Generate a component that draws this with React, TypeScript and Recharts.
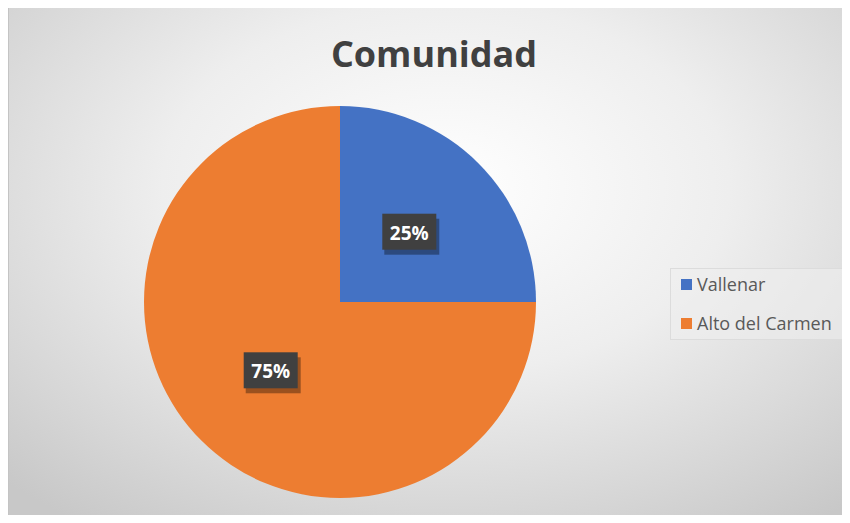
import React from 'react';
import { PieChart, Pie, Cell, Legend } from 'recharts';

const categories = ['Vallenar', 'Alto del Carmen'];
const shares = [25, 75];
const colors = ['#4472C4', '#ED7D31'];

const data = categories.map((name, i) => ({ name, value: shares[i] }));

const RADIAN = Math.PI / 180;

const renderLabel = (props: any) => {
    const { cx, cy, midAngle, outerRadius, percent } = props;
    const r = outerRadius * 0.5;
    const x = cx + r * Math.cos(-midAngle * RADIAN);
    const y = cy + r * Math.sin(-midAngle * RADIAN);
    return (
        <g>
            <rect x={x - 27} y={y - 17} width={55} height={36} fill="rgba(0,0,0,0.35)" transform="translate(2,3)" />
            <rect x={x - 27} y={y - 19} width={54} height={36} fill="#404040" />
            <text
                x={x}
                y={y}
                fill="#ffffff"
                textAnchor="middle"
                dominantBaseline="central"
                fontFamily="'Open Sans', sans-serif"
                fontWeight={700}
                fontSize={19}
            >
                {`${Math.round(percent * 100)}%`}
            </text>
        </g>
    );
};

const renderLegend = () => (
    <div
        style={{
            width: 178,
            height: 72,
            boxSizing: 'border-box',
            border: '1px solid #dcdcdc',
            background: 'rgba(238,238,238,0.6)',
            padding: '3px 0 0 10px',
            fontFamily: "'Open Sans', sans-serif",
            fontSize: 18,
            color: '#595959',
        }}
    >
        {categories.map((c, i) => (
            <div key={c} style={{ display: 'flex', alignItems: 'center', height: 24, marginBottom: i === 0 ? 15 : 0 }}>
                <span style={{ width: 11, height: 11, background: colors[i], marginRight: 5, display: 'inline-block' }} />
                <span>{c}</span>
            </div>
        ))}
    </div>
);

const App: React.FC = () => {
    return (
        <div style={{ margin: -8, width: 850, height: 523, background: '#ffffff', position: 'relative' }}>
            <div
                style={{
                    position: 'absolute',
                    left: 8,
                    top: 7,
                    width: 842,
                    height: 516,
                    boxSizing: 'border-box',
                    border: '1px solid #c4c4c4',
                    background: 'radial-gradient(ellipse 75% 80% at 52% 35%, #ffffff 0%, #eeeeee 45%, #d6d6d6 80%, #c8c8c8 100%)',
                }}
            />
            <div
                style={{
                    position: 'absolute',
                    left: 0,
                    width: 868,
                    top: 28,
                    textAlign: 'center',
                    fontFamily: "'Open Sans', sans-serif",
                    fontWeight: 700,
                    fontSize: 36,
                    color: '#404040',
                    lineHeight: '52px',
                }}
            >
                Comunidad
            </div>
            <div style={{ position: 'absolute', left: 0, top: 0 }}>
                <PieChart width={850} height={523} margin={{ top: 0, right: 0, bottom: 0, left: 0 }}>
                    <Pie
                        data={data}
                        dataKey="value"
                        nameKey="name"
                        cx={340}
                        cy={302}
                        outerRadius={196}
                        startAngle={90}
                        endAngle={-270}
                        stroke="none"
                        label={renderLabel}
                        labelLine={false}
                        isAnimationActive={false}
                    >
                        {data.map((d, i) => (
                            <Cell key={d.name} fill={colors[i]} />
                        ))}
                    </Pie>
                    <Legend
                        content={renderLegend}
                        wrapperStyle={{ position: 'absolute', left: 670, top: 268, width: 178, height: 72 }}
                    />
                </PieChart>
            </div>
        </div>
    );
};

export default App;
